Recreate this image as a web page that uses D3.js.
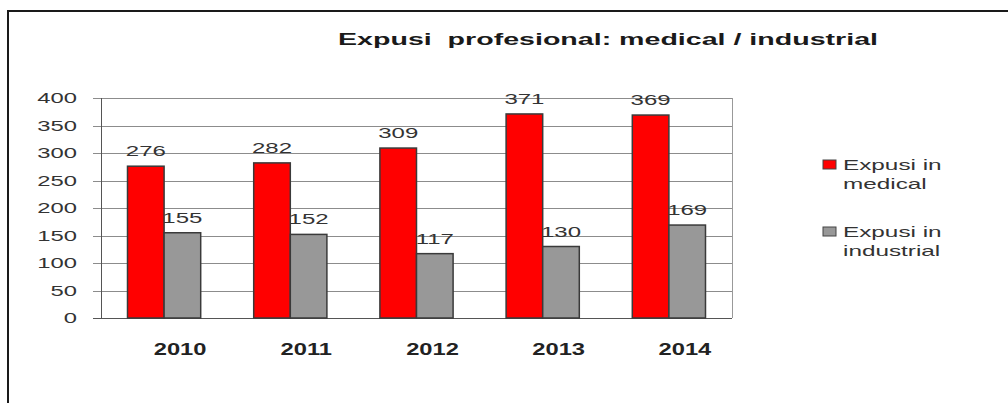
<!DOCTYPE html>
<html>
<head>
<meta charset="utf-8">
<script src="https://cdn.jsdelivr.net/npm/d3@7"></script>
<style>
  html, body { margin: 0; padding: 0; background: #fff; }
  svg { display: block; }
  text { font-family: "Liberation Sans", Arial, sans-serif; }
</style>
</head>
<body>
<div id="chart"></div>
<script>
const years = ["2010", "2011", "2012", "2013", "2014"];
const medical = [276, 282, 309, 371, 369];
const industrial = [155, 152, 117, 130, 169];
const seriesNames = ["Expusi in medical", "Expusi in industrial"];
const legendLines = [["Expusi in", "medical"], ["Expusi in", "industrial"]];
const seriesColors = ["#ff0000", "#989898"];
const yTicks = [0, 50, 100, 150, 200, 250, 300, 350, 400];
const title = "Expusi  profesional: medical / industrial";

const W = 1008, H = 403;
const SX = 1.65; // horizontal text stretch seen in the reference

const svg = d3.select("#chart").append("svg")
  .attr("width", W).attr("height", H);

svg.append("rect").attr("width", W).attr("height", H).attr("fill", "#fff");

// outer frame (top + left visible)
svg.append("path")
  .attr("d", `M8,${H} V11 H${W}`)
  .attr("fill", "none").attr("stroke", "#1a1a1a").attr("stroke-width", 2);

function stretch(sel, f = SX) {
  sel.each(function () {
    const L = this.getComputedTextLength();
    this.setAttribute("textLength", L * f);
    this.setAttribute("lengthAdjust", "spacingAndGlyphs");
  });
}

const plotL = 101, plotR = 732, plotT = 98, plotB = 318;

const y = d3.scaleLinear().domain([0, 400]).range([plotB, plotT]);
const x0 = d3.scaleBand().domain(years).range([plotL, plotR])
  .paddingInner(0.42).paddingOuter(0.21);
const x1 = d3.scaleBand().domain([0, 1]).range([0, x0.bandwidth()]);

// gridlines with tick stubs
const grid = svg.append("g");
grid.selectAll("line").data(yTicks).join("line")
  .attr("x1", plotL - 8).attr("x2", plotR)
  .attr("y1", d => Math.round(y(d)) + 0.5).attr("y2", d => Math.round(y(d)) + 0.5)
  .attr("stroke", d => d === 0 ? "#555" : "#8c8c8c").attr("stroke-width", 1);

// axis lines
svg.append("line").attr("x1", plotL + 0.5).attr("x2", plotL + 0.5)
  .attr("y1", plotT).attr("y2", plotB).attr("stroke", "#555");
svg.append("line").attr("x1", plotR + 0.5).attr("x2", plotR + 0.5)
  .attr("y1", plotT).attr("y2", plotB).attr("stroke", "#999");

// y tick labels
const yl = svg.append("g").selectAll("text").data(yTicks).join("text")
  .attr("x", 77).attr("y", d => y(d) + 5)
  .attr("text-anchor", "end")
  .attr("font-size", 14).attr("fill", "#333")
  .text(d => d);
stretch(yl, 1.7);

// bars
const data = years.map((yr, i) => ({ year: yr, vals: [medical[i], industrial[i]] }));
const groups = svg.append("g").selectAll("g").data(data).join("g")
  .attr("transform", d => `translate(${x0(d.year)},0)`);

groups.selectAll("rect").data(d => d.vals.map((v, k) => ({ v, k }))).join("rect")
  .attr("x", d => x1(d.k))
  .attr("y", d => y(d.v))
  .attr("width", x1.bandwidth())
  .attr("height", d => y(0) - y(d.v))
  .attr("fill", d => seriesColors[d.k])
  .attr("stroke", "#3a3a3a").attr("stroke-width", 1.5);

// value labels
const vl = groups.selectAll("text").data(d => d.vals.map((v, k) => ({ v, k }))).join("text")
  .attr("x", d => x1(d.k) + x1.bandwidth() / 2)
  .attr("y", d => y(d.v) - 10)
  .attr("text-anchor", "middle")
  .attr("font-size", 15).attr("fill", "#333")
  .text(d => d.v);
stretch(vl, 1.6);

// year labels
const xl = svg.append("g").selectAll("text").data(years).join("text")
  .attr("x", d => x0(d) + x0.bandwidth() / 2 + 16)
  .attr("y", 355)
  .attr("text-anchor", "middle")
  .attr("font-size", 16).attr("font-weight", "bold").attr("fill", "#222")
  .text(d => d);
stretch(xl, 1.48);

// title
svg.append("text")
  .attr("x", 608).attr("y", 45)
  .attr("text-anchor", "middle")
  .attr("font-size", 17).attr("font-weight", "bold").attr("fill", "#1a1a1a")
  .attr("textLength", 540).attr("lengthAdjust", "spacingAndGlyphs")
  .style("white-space", "pre")
  .text(title);

// legend
const legTop = [160, 227];
const leg = svg.append("g").selectAll("g").data(seriesNames).join("g")
  .attr("transform", (d, i) => `translate(823,${legTop[i]})`);
leg.append("rect").attr("width", 13).attr("height", 9)
  .attr("fill", (d, i) => seriesColors[i]).attr("stroke", "#444").attr("stroke-width", 1);
const lt = leg.selectAll("text").data((d, i) => legendLines[i]).join("text")
  .attr("x", 20).attr("y", (d, j) => 10 + j * 19)
  .attr("font-size", 15).attr("fill", "#333")
  .text(d => d);
stretch(lt, 1.62);
</script>
</body>
</html>
